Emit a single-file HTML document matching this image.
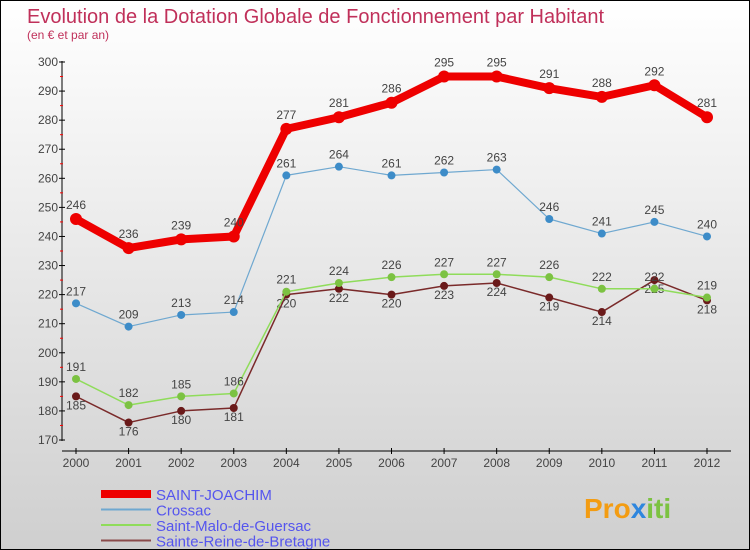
<!DOCTYPE html>
<html><head><meta charset="utf-8"><style>
body{margin:0;width:750px;height:550px;overflow:hidden;font-family:"Liberation Sans",sans-serif}
#wrap{position:relative;width:748px;height:548px;border:1px solid #000;background:linear-gradient(#ffffff,#cfcfcf)}
</style></head><body>
<div id="wrap">
<svg id="chart" width="748" height="548" style="position:absolute;left:0;top:0">
<text x="26" y="22" font-size="20" fill="#c0305a">Evolution de la Dotation Globale de Fonctionnement par Habitant</text>
<text x="26" y="38" font-size="12" fill="#c0305a">(en € et par an)</text>
<g id="axes"></g><g id="series"></g><g id="legend"></g>
<text x="583" y="517" font-size="28" font-weight="bold" fill="#f39c12">Pro<tspan fill="#2e86de">x</tspan><tspan fill="#7cc242">iti</tspan></text>
</svg>
</div>
<script>
const years=["2000","2001","2002","2003","2004","2005","2006","2007","2008","2009","2010","2011","2012"];
const yTicks=[170,180,190,200,210,220,230,240,250,260,270,280,290,300];
const saintJoachim=[246,236,239,240,277,281,286,295,295,291,288,292,281];
const crossac=[217,209,213,214,261,264,261,262,263,246,241,245,240];
const saintMalo=[191,182,185,186,221,224,226,227,227,226,222,222,219];
const sainteReine=[185,176,180,181,220,222,220,223,224,219,214,225,218];
const names=["SAINT-JOACHIM","Crossac","Saint-Malo-de-Guersac","Sainte-Reine-de-Bretagne"];
const NS="http://www.w3.org/2000/svg";
const x=i=>75+i*(631/12);
const y=v=>439-(v-170)*(378/130);
function mk(t,a,p){const e=document.createElementNS(NS,t);for(const k in a)e.setAttribute(k,a[k]);p.appendChild(e);return e;}
const ax=document.getElementById('axes');
let l=mk('line',{x1:61,y1:60,x2:61,y2:440,stroke:'#000'},ax);

l=mk('line',{x1:61,y1:450,x2:730,y2:450,stroke:'#000'},ax);

yTicks.forEach((v,i)=>{mk('line',{x1:58,x2:64,y1:y(v),y2:y(v),stroke:'#000'},ax);
 if(i<yTicks.length-1)mk('line',{x1:59,x2:62,y1:y(v+5),y2:y(v+5),stroke:'#f00'},ax);
 const t=mk('text',{x:57,y:y(v)+4,'font-size':12,'text-anchor':'end',fill:'#444'},ax);t.textContent=v;
 });
years.forEach((yr,i)=>{mk('line',{x1:x(i),x2:x(i),y1:447,y2:453,stroke:'#000'},ax);
 const t=mk('text',{x:x(i),y:466,'font-size':12,'text-anchor':'middle',fill:'#444'},ax);t.textContent=yr;
 });
const sg=document.getElementById('series');
const defs=[[sainteReine,'#7a2a2a','#6a1a1a',1.5,4,10],[saintMalo,'#8fdc5a','#7cc242',1.5,4,-8],[crossac,'#6fa8d0','#3d8cc8',1.2,4,-8],[saintJoachim,'#ee0000','#ee0000',8,6,-10]];
defs.forEach(([d,c,pc,w,r,off],si)=>{
 const g=mk('g',{},sg);
 const p=mk('polyline',{points:d.map((v,i)=>x(i)+','+y(v)).join(' '),fill:'none',stroke:c,'stroke-width':w,'stroke-linejoin':'round'},g);
 
 d.forEach((v,i)=>{const cc=mk('circle',{cx:x(i),cy:y(v),r:r,fill:pc},g);
  
  const t=mk('text',{x:x(i),y:y(v)+off+(off>0?3:0),'font-size':12,'text-anchor':'middle',fill:'#444'},g);t.textContent=v;
  });
});
const lg=document.getElementById('legend');
const lc=['#ee0000','#6fa8d0','#8fdc5a','#8a4a4a'],lw=[8,2,2,2];
names.forEach((n,i)=>{const yy=493+i*15.5;
 const li=mk('line',{x1:100,x2:150,y1:yy,y2:yy,stroke:lc[i],'stroke-width':lw[i]},lg);
 
 const t=mk('text',{x:155,y:yy+6,'font-size':15,fill:'#5555ee'},lg);t.textContent=n;
 });
</script>
</body></html>
